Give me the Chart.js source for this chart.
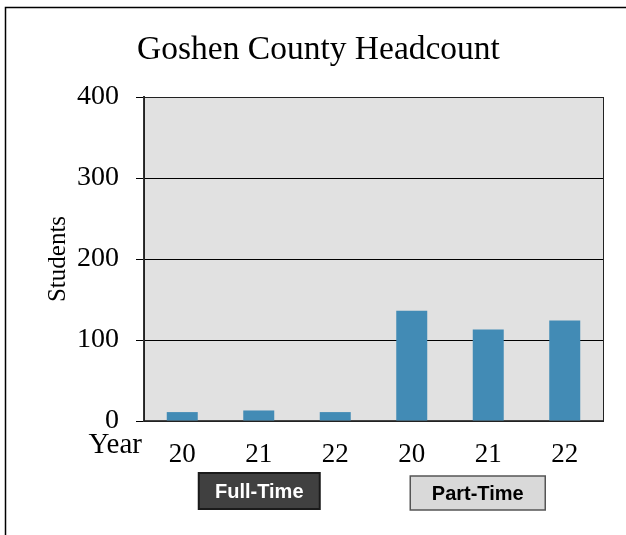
<!DOCTYPE html>
<html>
<head>
<meta charset="utf-8">
<script src="https://cdn.jsdelivr.net/npm/chart.js@4/dist/chart.umd.min.js"></script>
<style>
  body { margin: 0; background: #fff; }
  #wrap { width: 626px; height: 535px; }
</style>
</head>
<body>
<div id="wrap"><canvas id="grafico" width="626" height="535"></canvas></div>
<script>
// dados do grafico
var years = ["20", "21", "22"];
var fullTime = [11, 13, 11];
var partTime = [136, 113, 124];
var yTicks = [0, 100, 200, 300, 400];
var groups = ["Full-Time", "Part-Time"];

var labels = years.concat(years);
var values = fullTime.concat(partTime);

// desenha moldura, titulo, fundo do grafico e caixas dos grupos
var extras = {
  id: "extras",
  beforeDraw: function (chart) {
    var ctx = chart.ctx, a = chart.chartArea;
    ctx.save();
    // moldura
    ctx.strokeStyle = "#000";
    ctx.lineWidth = 1.5;
    ctx.beginPath();
    ctx.moveTo(5.5, 535);
    ctx.lineTo(5.5, 7.5);
    ctx.lineTo(626, 7.5);
    ctx.stroke();
    // fundo
    ctx.fillStyle = "#e1e1e1";
    ctx.fillRect(a.left, a.top, a.right - a.left, a.bottom - a.top);
    // titulo
    ctx.fillStyle = "#000";
    ctx.font = "33.5px 'Liberation Serif'";
    ctx.textAlign = "center";
    ctx.textBaseline = "alphabetic";
    ctx.fillText("Goshen County Headcount", 318.5, 59);
    ctx.restore();
  },
  afterDraw: function (chart) {
    var ctx = chart.ctx, a = chart.chartArea, x = chart.scales.x;
    ctx.save();
    ctx.strokeStyle = "#222";
    ctx.lineWidth = 1;
    ctx.strokeRect(a.left + 0.5, a.top + 0.5, a.right - a.left, a.bottom - a.top);
    // "Year"
    ctx.fillStyle = "#000";
    ctx.font = "29px 'Liberation Serif'";
    ctx.textAlign = "right";
    ctx.textBaseline = "alphabetic";
    ctx.fillText("Year", a.left - 2, a.bottom + 32);
    // caixas Full-Time / Part-Time
    var cx1 = x.getPixelForValue(1);
    var cx2 = x.getPixelForValue(4) - 11;
    ctx.font = "bold 20px 'Liberation Sans'";
    ctx.textAlign = "center";
    ctx.textBaseline = "middle";

    ctx.fillStyle = "#404040";
    ctx.fillRect(cx1 - 60, a.bottom + 52, 121, 36);
    ctx.strokeStyle = "#1a1a1a";
    ctx.lineWidth = 2;
    ctx.strokeRect(cx1 - 60, a.bottom + 52, 121, 36);
    ctx.fillStyle = "#fff";
    ctx.fillText(groups[0], cx1 + 0.5, a.bottom + 71);

    ctx.fillStyle = "#d9d9d9";
    ctx.fillRect(cx2 - 67, a.bottom + 55, 135, 34);
    ctx.strokeStyle = "#555";
    ctx.lineWidth = 1.5;
    ctx.strokeRect(cx2 - 67, a.bottom + 55, 135, 34);
    ctx.fillStyle = "#000";
    ctx.fillText(groups[1], cx2 + 0.5, a.bottom + 73);
    ctx.restore();
  }
};

Chart.defaults.font.family = "'Liberation Serif'";
Chart.defaults.color = "#000";

var ctx = document.getElementById("grafico");
var chartGraph = new Chart(ctx, {
  type: "bar",
  data: {
    labels: labels,
    datasets: [{
      label: "Students",
      data: values,
      backgroundColor: "#428bb5",
      borderWidth: 0,
      categoryPercentage: 1,
      barPercentage: 0.405
    }]
  },
  options: {
    responsive: false,
    animation: false,
    layout: { padding: { top: 97, left: 0, right: 23, bottom: 0 } },
    plugins: {
      legend: { display: false },
      title: { display: false },
      tooltip: { enabled: false }
    },
    scales: {
      x: {
        grid: { display: false, drawTicks: false },
        border: { display: true, color: "#444", width: 1.5 },
        ticks: { font: { size: 27 }, padding: 18 },
        afterFit: function (s) { s.height = 114; }
      },
      y: {
        min: 0,
        max: 400,
        afterBuildTicks: function (s) { s.ticks = yTicks.map(function (v) { return { value: v }; }); },
        grid: { color: "#000", lineWidth: 1, tickLength: 8 },
        border: { display: true, color: "#333", width: 2 },
        ticks: { font: { size: 28 }, padding: 17 },
        title: { display: true, text: "Students", font: { size: 25 }, padding: { top: 43 } },
        afterFit: function (s) { s.width = 144; }
      }
    }
  },
  plugins: [extras]
});
</script>
</body>
</html>
